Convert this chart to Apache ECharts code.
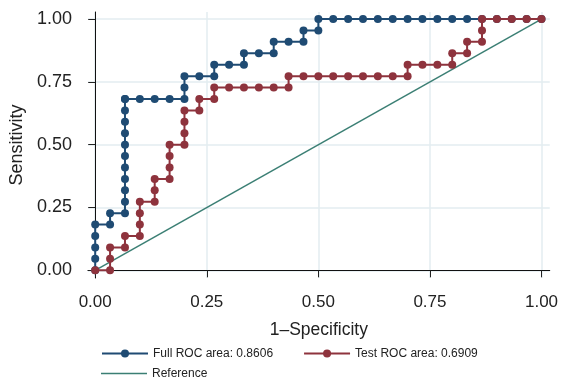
<!DOCTYPE html>
<html>
<head>
<meta charset="utf-8">
<script src="https://cdn.jsdelivr.net/npm/echarts@6/dist/echarts.min.js"></script>
<style>
html,body{margin:0;padding:0;background:#fff;}
#chart{width:561px;height:378px;}
</style>
</head>
<body>
<div id="chart"></div>
<script>
// Tick values
var tickValues = [0, 0.25, 0.5, 0.75, 1];
var tickLabels = ['0.00', '0.25', '0.50', '0.75', '1.00'];

// Full ROC (area 0.8606): 1-specificity and sensitivity
var fullX = [0, 0, 0, 0, 0, 0.0333, 0.0333, 0.0667, 0.0667, 0.0667, 0.0667, 0.0667, 0.0667, 0.0667, 0.0667,
  0.0667, 0.0667, 0.0667, 0.0667, 0.1, 0.1333, 0.1667, 0.2, 0.2, 0.2, 0.2333, 0.2667, 0.2667, 0.3, 0.3333,
  0.3333, 0.3667, 0.4, 0.4, 0.4333, 0.4667, 0.4667, 0.5, 0.5, 0.5333, 0.5667, 0.6, 0.6333, 0.6667, 0.7,
  0.7333, 0.7667, 0.8, 0.8333, 0.8667, 0.9, 0.9333, 0.9667, 1];
var fullY = [0, 0.0455, 0.0909, 0.1364, 0.1818, 0.1818, 0.2273, 0.2273, 0.2727, 0.3182, 0.3636, 0.4091, 0.4545, 0.5,
  0.5455, 0.5909, 0.6364, 0.6818, 0.6818, 0.6818, 0.6818, 0.6818, 0.6818, 0.7273, 0.7727, 0.7727, 0.7727, 0.8182,
  0.8182, 0.8182, 0.8636, 0.8636, 0.8636, 0.9091, 0.9091, 0.9091, 0.9545, 0.9545, 1, 1, 1, 1, 1, 1, 1,
  1, 1, 1, 1, 1, 1, 1, 1, 1];

// Test ROC (area 0.6909)
var testX = [0, 0.0333, 0.0333, 0.0333, 0.0667, 0.0667, 0.1, 0.1, 0.1, 0.1, 0.1333, 0.1333, 0.1333, 0.1667,
  0.1667, 0.1667, 0.1667, 0.2, 0.2, 0.2, 0.2, 0.2333, 0.2333, 0.2667, 0.2667, 0.3, 0.3333, 0.3667, 0.4, 0.4333,
  0.4333, 0.4667, 0.5, 0.5333, 0.5667, 0.6, 0.6333, 0.6667, 0.7, 0.7, 0.7333, 0.7667, 0.8, 0.8, 0.8333, 0.8333,
  0.8667, 0.8667, 0.8667, 0.9, 0.9333, 0.9667, 1];
var testY = [0, 0, 0.0455, 0.0909, 0.0909, 0.1364, 0.1364, 0.1818, 0.2273, 0.2727, 0.2727, 0.3182, 0.3636, 0.3636,
  0.4091, 0.4545, 0.5, 0.5, 0.5455, 0.5909, 0.6364, 0.6364, 0.6818, 0.6818, 0.7273, 0.7273, 0.7273, 0.7273, 0.7273, 0.7273,
  0.7727, 0.7727, 0.7727, 0.7727, 0.7727, 0.7727, 0.7727, 0.7727, 0.7727, 0.8182, 0.8182, 0.8182, 0.8182, 0.8636, 0.8636, 0.9091,
  0.9091, 0.9545, 1, 1, 1, 1, 1];

// Reference diagonal
var refX = [0, 1];
var refY = [0, 1];

var seriesNames = ['Full ROC area: 0.8606', 'Test ROC area: 0.6909', 'Reference'];

function zip(a, b) { return a.map(function (v, i) { return [v, b[i]]; }); }

var FONT = 'Liberation Sans, Arial, Helvetica, sans-serif';
var BLUE = '#1f4b73', RED = '#8e333d', TEAL = '#3b7f74';
var chart = echarts.init(document.getElementById('chart'), null, { renderer: 'canvas' });
chart.setOption({
  animation: false,
  backgroundColor: '#ffffff',
  grid: { left: 86, right: 11, top: 12, bottom: 100, containLabel: false },
  legend: [
    {
      data: [seriesNames[0], seriesNames[1]],
      left: 101, top: 347.5, orient: 'horizontal', padding: 0,
      itemWidth: 46, itemHeight: 10, itemGap: 30,
      textStyle: { fontFamily: FONT, fontSize: 12, color: '#222' }
    },
    {
      data: [{ name: seriesNames[2], icon: 'rect', itemStyle: { color: TEAL } }],
      left: 101, top: 367.5, orient: 'horizontal', padding: 0,
      itemWidth: 46, itemHeight: 1.5,
      textStyle: { fontFamily: FONT, fontSize: 12, color: '#222' }
    }
  ],
  xAxis: {
    type: 'value', min: -0.0163, max: 1.0185,
    name: '1\u2013Specificity', nameLocation: 'middle', nameGap: 43,
    nameTextStyle: { fontFamily: FONT, fontSize: 17.5, color: '#222' },
    axisLine: { show: true, lineStyle: { color: '#111', width: 1 } },
    axisTick: { show: true, length: 7, customValues: tickValues, lineStyle: { color: '#222', width: 1 } },
    axisLabel: { customValues: tickValues, margin: 16, fontFamily: FONT, fontSize: 17, color: '#222',
      formatter: function (v) { return tickLabels[tickValues.indexOf(v)] || ''; } },
    splitLine: { show: true, lineStyle: { color: '#e3edf0', width: 1.5 } }
  },
  yAxis: {
    type: 'value', min: -0.0307, max: 1.028,
    name: 'Sensitivity', nameLocation: 'middle', nameGap: 58, nameRotate: 90,
    nameTextStyle: { fontFamily: FONT, fontSize: 18, color: '#222' },
    axisLine: { show: true, lineStyle: { color: '#111', width: 1 } },
    axisTick: { show: true, length: 7, customValues: tickValues, lineStyle: { color: '#222', width: 1 } },
    axisLabel: { customValues: tickValues, margin: 16, fontFamily: FONT, fontSize: 18, color: '#222',
      formatter: function (v) { return tickLabels[tickValues.indexOf(v)] || ''; } },
    splitLine: { show: true, lineStyle: { color: '#e3edf0', width: 1.5 } }
  },
  series: [
    {
      name: seriesNames[2], type: 'line', data: zip(refX, refY),
      symbol: 'none', showSymbol: false,
      lineStyle: { color: TEAL, width: 1.5 }, itemStyle: { color: TEAL }, z: 2
    },
    {
      name: seriesNames[0], type: 'line', data: zip(fullX, fullY),
      symbol: 'circle', symbolSize: 8, showAllSymbol: true,
      lineStyle: { color: BLUE, width: 2 }, itemStyle: { color: BLUE }, z: 3
    },
    {
      name: seriesNames[1], type: 'line', data: zip(testX, testY),
      symbol: 'circle', symbolSize: 8, showAllSymbol: true,
      lineStyle: { color: RED, width: 2 }, itemStyle: { color: RED }, z: 4
    }
  ]
});
</script>
</body>
</html>
